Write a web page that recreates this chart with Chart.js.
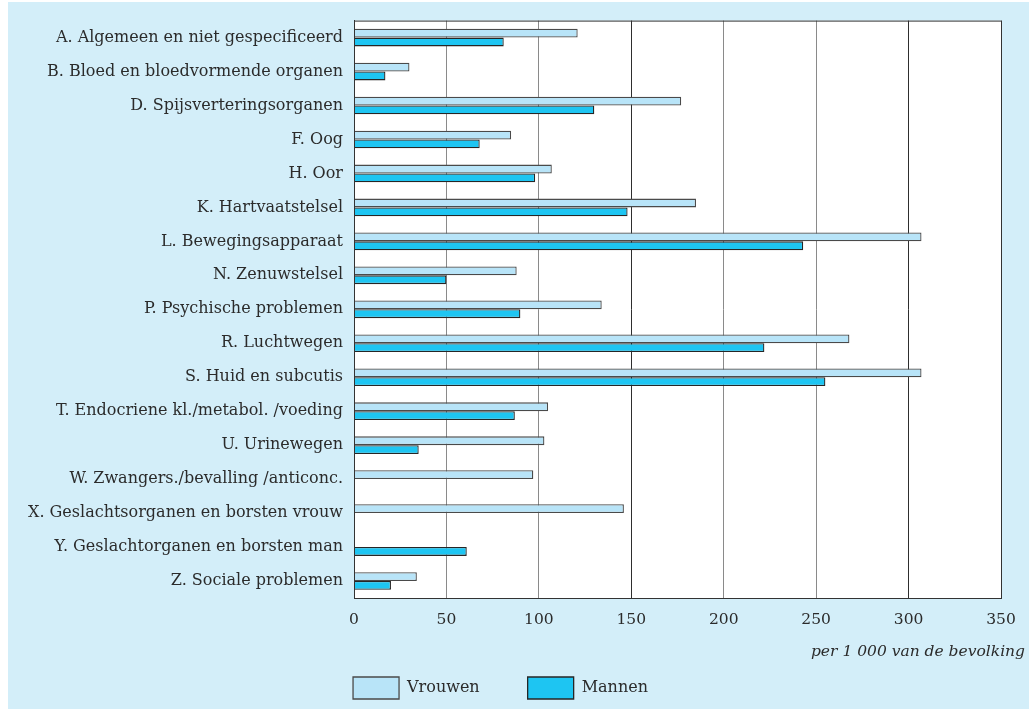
<!DOCTYPE html>
<html>
<head>
<meta charset="utf-8">
<script src="https://cdn.jsdelivr.net/npm/chart.js@4.4.0/dist/chart.umd.min.js"></script>
<style>
  html, body { margin: 0; padding: 0; background: #ffffff; }
  #wrap { position: relative; width: 1029px; height: 709px; }
</style>
</head>
<body>
<div id="wrap"><canvas id="grafiek" width="1029" height="709"></canvas></div>
<script>
// categorieen (ICPC-hoofdstukken)
const categorieen = [
  "A. Algemeen en niet gespecificeerd",
  "B. Bloed en bloedvormende organen",
  "D. Spijsverteringsorganen",
  "F. Oog",
  "H. Oor",
  "K. Hartvaatstelsel",
  "L. Bewegingsapparaat",
  "N. Zenuwstelsel",
  "P. Psychische problemen",
  "R. Luchtwegen",
  "S. Huid en subcutis",
  "T. Endocriene kl./metabol. /voeding",
  "U. Urinewegen",
  "W. Zwangers./bevalling /anticonc.",
  "X. Geslachtsorganen en borsten vrouw",
  "Y. Geslachtorganen en borsten man",
  "Z. Sociale problemen"
];

// per 1 000 van de bevolking
const vrouwen = [121, 30, 177, 85, 107, 185, 307, 88, 134, 268, 307, 105, 103, 97, 146, null, 34];
const mannen  = [81, 17, 130, 68, 98, 148, 243, 50, 90, 222, 255, 87, 35, null, null, 61, 20];

const xTicks = [0, 50, 100, 150, 200, 250, 300, 350];
const asTitel = "per 1 000 van de bevolking";

const lettertype = "'DejaVu Serif', serif";
const tekstKleur = "#2b2b2b";

// achtergrond en witte plotvlak
const achtergrond = {
  id: "achtergrond",
  beforeDraw(chart) {
    const ctx = chart.ctx;
    const a = chart.chartArea;
    ctx.save();
    ctx.fillStyle = "#d3eef9";
    ctx.fillRect(8, 2, chart.width - 8, chart.height - 2);
    ctx.fillStyle = "#ffffff";
    ctx.fillRect(a.left, a.top, a.right - a.left, a.bottom - a.top);
    ctx.restore();
  },
  afterDraw(chart) {
    const ctx = chart.ctx;
    const a = chart.chartArea;
    ctx.save();
    ctx.strokeStyle = "#333333";
    ctx.lineWidth = 1;
    ctx.strokeRect(a.left + 0.5, a.top + 0.5, a.right - a.left, a.bottom - a.top);
    // as-titel rechts onder
    ctx.fillStyle = tekstKleur;
    ctx.font = "italic 15.5px " + lettertype;
    ctx.textAlign = "right";
    ctx.textBaseline = "middle";
    ctx.fillText(asTitel, 1025, 652);
    ctx.restore();
  }
};

const grf = document.getElementById("grafiek");

new Chart(grf, {
  type: "bar",
  data: {
    labels: categorieen,
    datasets: [
      {
        label: "Vrouwen",
        data: vrouwen,
        backgroundColor: "#b8e4f8",
        borderColor: "#4a4a4a",
        borderWidth: 1.3,
        categoryPercentage: 0.52,
        barPercentage: 1.0,
      },
      {
        label: "Mannen",
        data: mannen,
        backgroundColor: "#1ec5f2",
        borderColor: "#262626",
        borderWidth: 1.3,
        categoryPercentage: 0.52,
        barPercentage: 1.0,
      },
    ],
  },
  options: {
    indexAxis: "y",
    responsive: false,
    animation: false,
    layout: { padding: { top: 19, right: 28, bottom: 0, left: 0 } },
    plugins: {
      legend: {
        position: "bottom",
        labels: {
          boxWidth: 46,
          boxHeight: 22,
          padding: 48,
          color: tekstKleur,
          font: { family: lettertype, size: 16 },
        },
      },
      tooltip: { enabled: false },
      title: { display: false },
    },
    scales: {
      x: {
        min: 0,
        max: 350,
        afterBuildTicks(scale) {
          scale.ticks = xTicks.map((v) => ({ value: v }));
        },
        afterFit(scale) {
          scale.height = 31;
        },
        grid: {
          drawTicks: false,
          color: (c) => (c.tick && (c.tick.value === 150 || c.tick.value === 300) ? "#2e2e2e" : "#8a8a8a"),
          lineWidth: 1,
        },
        border: { display: true, color: "#333333" },
        ticks: {
          padding: 13,
          color: tekstKleur,
          font: { family: lettertype, size: 15.5 },
        },
      },
      y: {
        afterFit(scale) {
          scale.width = 354;
        },
        grid: { display: false, drawTicks: false },
        border: { display: true, color: "#333333" },
        ticks: {
          padding: 11,
          color: tekstKleur,
          font: { family: lettertype, size: 16 },
          autoSkip: false,
        },
      },
    },
  },
  plugins: [achtergrond],
});
</script>
</body>
</html>
